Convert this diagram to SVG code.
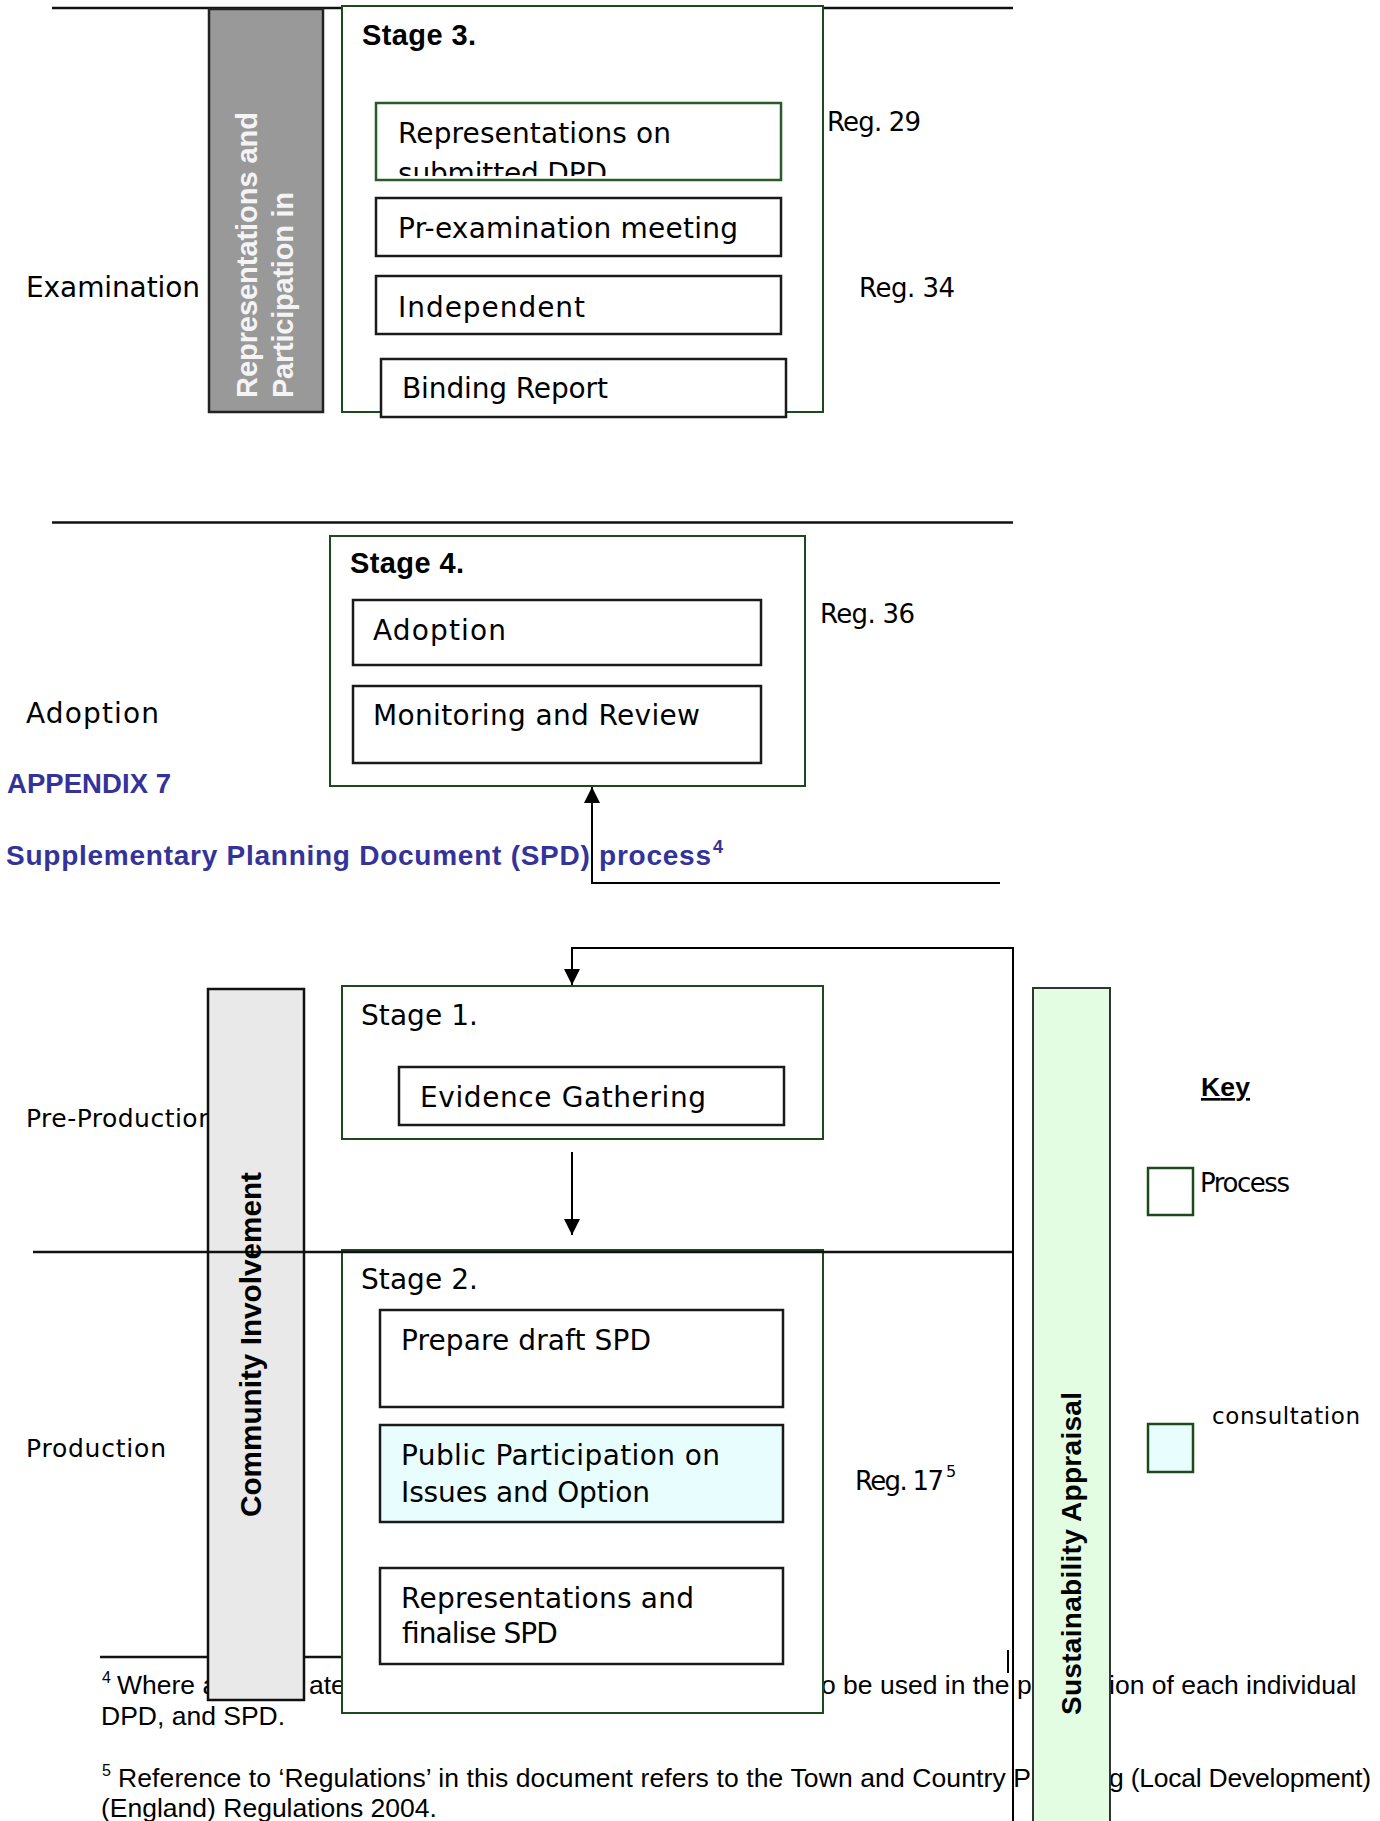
<svg xmlns="http://www.w3.org/2000/svg" width="1380" height="1821" viewBox="0 0 1380 1821">
<style>
.t{font-family:"DejaVu Sans",sans-serif;fill:#000}
.b{font-family:"Liberation Sans",Arial,sans-serif;font-weight:bold;fill:#000}
.fn{font-family:"Liberation Sans",Arial,sans-serif;font-size:26.5px;fill:#000}
.sup{font-family:"Liberation Sans",Arial,sans-serif;font-size:16px;fill:#000}
.stage{fill:#fff;stroke:#1c4a1c;stroke-width:2}
.box{fill:#fff;stroke:#1a1a1a;stroke-width:2.5}
.gbox{fill:#fff;stroke:#2a5a2a;stroke-width:2.5}
.cbox{fill:#e8fdfd;stroke:#1a1a1a;stroke-width:2.5}
.rule{stroke:#111;stroke-width:2.5;fill:none}
.con{stroke:#000;stroke-width:2;fill:none}
.blue{font-family:"Liberation Sans",Arial,sans-serif;font-weight:bold;fill:#333399}
</style>
<defs>
<marker id="ah" viewBox="0 0 16 16" refX="16" refY="8" markerWidth="16" markerHeight="16" markerUnits="userSpaceOnUse" orient="auto">
<path d="M0,0 L16,8 L0,16 z" fill="#000"/>
</marker>
<clipPath id="clip1"><rect x="378" y="104" width="400" height="72"/></clipPath>
</defs>

<!-- footnotes (behind) -->
<g id="footnotes">
<line class="rule" x1="100" y1="1657" x2="342" y2="1657" stroke-width="2.5"/>
<text class="sup" x="102" y="1683">4</text>
<text class="fn" x="117" y="1694">Where a</text>
<text class="fn" x="309" y="1694">ate</text>
<text class="fn" x="821" y="1694">o be used in the p</text>
<text class="fn" x="1109" y="1694">ion of each individual</text>
<text class="fn" x="101" y="1725">DPD, and SPD.</text>
<text class="sup" x="102" y="1776">5</text>
<text class="fn" x="118" y="1787" textLength="913">Reference to ‘Regulations’ in this document refers to the Town and Country P</text>
<text class="fn" x="1109" y="1787" textLength="262">g (Local Development)</text>
<text class="fn" x="101" y="1817">(England) Regulations 2004.</text>
</g>

<!-- section lines and labels -->
<g id="sections">
<line class="rule" x1="52" y1="8" x2="1013" y2="8"/>
<line class="rule" x1="52" y1="522.5" x2="1013" y2="522.5"/>
<text class="t" x="26" y="297" font-size="28" textLength="174">Examination</text>
<text class="t" x="26" y="723" font-size="28" textLength="133">Adoption</text>
<text class="t" x="26" y="1127" font-size="25" textLength="188">Pre-Production</text>
<text class="t" x="26" y="1457" font-size="25" textLength="140">Production</text>
<text class="blue" x="7" y="793" font-size="27.5" textLength="164">APPENDIX 7</text>
<text class="blue" x="6" y="865" font-size="28" textLength="705">Supplementary Planning Document (SPD) process</text>
<text class="blue" x="713" y="853" font-size="18">4</text>
</g>

<!-- Representations and Participation bar -->
<g id="rep-bar">
<rect x="209" y="9" width="114" height="403" fill="#999999" stroke="#222" stroke-width="2.5"/>
<text class="b" transform="translate(257,398) rotate(-90)" font-size="29" style="fill:#f4f4f4" textLength="286">Representations and</text>
<text class="b" transform="translate(293,398) rotate(-90)" font-size="29" style="fill:#f4f4f4" textLength="206">Participation in</text>
</g>

<!-- Stage 3 -->
<g id="stage3">
<rect class="stage" x="342" y="6" width="481" height="406"/>
<text class="b" x="362" y="45" font-size="29" textLength="114">Stage 3.</text>
</g>
<g id="s3-representations">
<rect class="gbox" x="376" y="103" width="405" height="77"/>
<text class="t" x="398" y="143" font-size="28" textLength="273">Representations on</text>
<g clip-path="url(#clip1)"><text class="t" x="398" y="183" font-size="28" textLength="209">submitted DPD</text></g>
</g>
<g id="s3-preexam">
<rect class="box" x="376" y="198" width="405" height="58"/>
<text class="t" x="398" y="238" font-size="28" textLength="340">Pr-examination meeting</text>
</g>
<g id="s3-independent">
<rect class="box" x="376" y="276" width="405" height="58"/>
<text class="t" x="398" y="317" font-size="28" textLength="187">Independent</text>
</g>
<g id="s3-binding">
<rect class="box" x="381" y="359" width="405" height="58"/>
<text class="t" x="402" y="398" font-size="28" textLength="206">Binding Report</text>
</g>
<g id="reg-labels">
<text class="t" x="827" y="131" font-size="26" textLength="94">Reg. 29</text>
<text class="t" x="859" y="297" font-size="26" textLength="96">Reg. 34</text>
<text class="t" x="820" y="623" font-size="26" textLength="95">Reg. 36</text>
<text class="t" x="855" y="1490" font-size="26" textLength="89">Reg. 17</text>
<text class="t" x="946" y="1477" font-size="16">5</text>
</g>

<!-- Stage 4 -->
<g id="stage4">
<rect class="stage" x="330" y="536" width="475" height="250"/>
<text class="b" x="350" y="573" font-size="29" textLength="114">Stage 4.</text>
</g>
<g id="s4-adoption">
<rect class="box" x="353" y="600" width="408" height="65"/>
<text class="t" x="373" y="640" font-size="28" textLength="133">Adoption</text>
</g>
<g id="s4-monitoring">
<rect class="box" x="353" y="686" width="408" height="77"/>
<text class="t" x="373" y="725" font-size="28" textLength="327">Monitoring and Review</text>
</g>

<!-- Community Involvement bar -->
<g id="community-bar">
<rect x="208" y="989" width="96" height="711" fill="#e9e9e9" stroke="#111" stroke-width="2.5"/>
</g>

<!-- Stage 1 -->
<g id="stage1">
<rect class="stage" x="342" y="986" width="481" height="153"/>
<text class="t" x="361" y="1025" font-size="28" textLength="117">Stage 1.</text>
</g>
<g id="s1-evidence">
<rect class="box" x="399" y="1067" width="385" height="58"/>
<text class="t" x="420" y="1107" font-size="28" textLength="286">Evidence Gathering</text>
</g>

<!-- Stage 2 -->
<g id="stage2">
<rect class="stage" x="342" y="1250" width="481" height="463"/>
<text class="t" x="361" y="1289" font-size="28" textLength="117">Stage 2.</text>
</g>
<g id="s2-prepare">
<rect class="box" x="380" y="1310" width="403" height="97" stroke="#1c3a1c"/>
<text class="t" x="401" y="1350" font-size="28" textLength="250">Prepare draft SPD</text>
</g>
<g id="s2-public">
<rect class="cbox" x="380" y="1425" width="403" height="97"/>
<text class="t" x="401" y="1465" font-size="28" textLength="319">Public Participation on</text>
<text class="t" x="401" y="1502" font-size="28" textLength="249">Issues and Option</text>
</g>
<g id="s2-finalise">
<rect class="box" x="380" y="1568" width="403" height="96"/>
<text class="t" x="401" y="1608" font-size="28" textLength="293">Representations and</text>
<text class="t" x="401" y="1643" font-size="28" textLength="156">finalise SPD</text>
</g>

<!-- connectors -->
<g id="connectors">
<line class="rule" x1="33" y1="1252" x2="1013" y2="1252"/>
<polyline class="con" points="1000,883 592,883 592,787" marker-end="url(#ah)"/>
<polyline class="con" points="1013,1821 1013,948 572,948 572,985" marker-end="url(#ah)"/>
<line class="con" x1="572" y1="1152" x2="572" y2="1235" marker-end="url(#ah)"/>
<line class="con" x1="1008" y1="1650" x2="1008" y2="1673"/>
</g>

<g id="community-label">
<text class="b" transform="translate(261,1517) rotate(-90)" font-size="30" textLength="345" lengthAdjust="spacingAndGlyphs">Community Involvement</text>
</g>

<!-- Sustainability Appraisal bar -->
<g id="sa-bar">
<rect x="1033" y="988" width="77" height="840" fill="#e3fde3" stroke="#333" stroke-width="2"/>
<text class="b" transform="translate(1081,1715) rotate(-90)" font-size="28" textLength="323">Sustainability Appraisal</text>
</g>

<!-- Key -->
<g id="key">
<text class="b" x="1201" y="1096" font-size="26.5" text-decoration="underline" textLength="49">Key</text>
</g>
<g id="key-process">
<rect x="1148" y="1168" width="45" height="47" fill="#fff" stroke="#1c4a1c" stroke-width="2.5"/>
<text class="t" x="1200" y="1192" font-size="26" textLength="90">Process</text>
</g>
<g id="key-consultation">
<rect x="1148" y="1424" width="45" height="48" fill="#e8fdfd" stroke="#1c4a1c" stroke-width="2.5"/>
<text class="t" x="1212" y="1424" font-size="23" textLength="148">consultation</text>
</g>
</svg>
